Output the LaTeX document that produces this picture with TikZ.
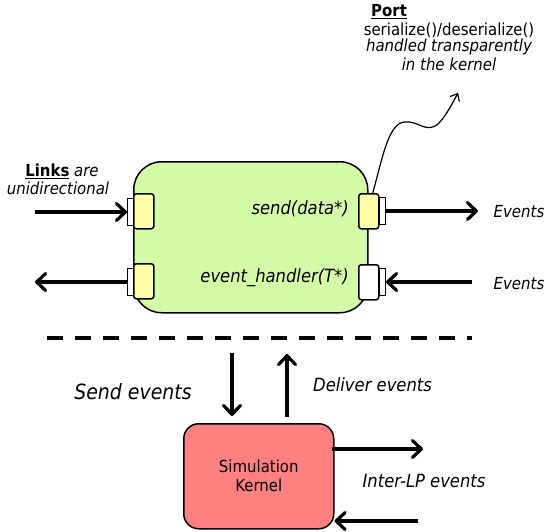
\documentclass[tikz,border=0pt]{standalone}
\usepackage{fontspec}
\setmainfont{DejaVu Sans Condensed}
\usetikzlibrary{arrows.meta}

\definecolor{lpgreen}{RGB}{212,252,168}
\definecolor{portyellow}{RGB}{255,255,170}
\definecolor{kernelred}{RGB}{255,128,128}

\begin{document}
\begin{tikzpicture}[x=1pt,y=-1pt,
  flow/.style={line width=3.2pt,-{Straight Barb[length=9pt,width=17pt,round]}},
  box/.style={draw,line width=1.5pt,inner sep=0pt,anchor=north west},
  portbox/.style={box,fill=portyellow,rounded corners=2.5pt,minimum width=20pt,minimum height=35pt},
  inport/.style={portbox,fill=white},
  tab/.style={box,fill=white,line width=1pt,minimum width=6pt,minimum height=27pt},
  lbl/.style={inner sep=0pt,font=\fontsize{16.6}{17}\selectfont\itshape},
  biglbl/.style={inner sep=0pt,font=\fontsize{18.2}{19}\selectfont\itshape},
  txt/.style={inner sep=0pt,font=\fontsize{16.6}{17}\selectfont}]
\useasboundingbox (0,0) rectangle (546,531);

% logical process
\node[box,fill=lpgreen,rounded corners=28pt,minimum width=234pt,minimum height=151pt] (lp) at (133,161) {};

% ports on the left side
\node[tab] (tabA) at (127,198) {};
\node[portbox] (portA) at (133,193) {};
\node[tab] (tabB) at (127,268) {};
\node[portbox] (portB) at (133,263) {};

% ports on the right side
\node[tab] (tabC) at (379,197) {};
\node[portbox] (portC) at (358,193) {};
\node[tab] (tabD) at (379,268) {};
\node[inport] (portD) at (358,264) {};

\node[biglbl,anchor=east] (send) at (349,209) {send(data*)};
\node[biglbl,anchor=east] (handler) at (349,278) {event\_handler(T*)};

% links
\coordinate (inA) at (35,212);
\coordinate (outB) at (35,282);
\coordinate (outC) at (478,211);
\coordinate (inD) at (472,282);
\draw[flow] (inA) -- (inA -| tabA.west);
\draw[flow] (tabB.west |- outB) -- (outB);
\draw[flow] (tabC.east |- outC) -- (outC);
\draw[flow] (inD) -- (inD -| tabD.east);

\node[txt,anchor=center] (links) at (62,171) {\underline{\textbf{Links}} \textit{are}};
\node[lbl,anchor=center] (unidir) at (58,188) {unidirectional};
\node[lbl] (evC) at (519,212) {Events};
\node[lbl] (evD) at (519,284) {Events};

% port annotation
\node[txt,anchor=west] (porthead) at (371,12) {\underline{\textbf{Port}}};
\node[txt] (serial) at (449,30) {serialize()/deserialize()};
\node[lbl] (handled) at (449,47) {handled transparently};
\node[lbl] (inkernel) at (449,64) {in the kernel};
\draw[line width=1.2pt,-{Straight Barb[length=6pt,width=10pt,round]}]
  ([xshift=4pt]portC.north) .. controls (382,160) and (388,124) .. (404,122)
  .. controls (418,120) and (426,134) .. (438,124)
  .. controls (446,116) and (452,104) .. (458,93);

% boundary between model and kernel
\coordinate (dashL) at (47,338);
\coordinate (dashR) at (472,338);
\draw[line width=4pt,dash pattern=on 16pt off 12pt] (dashL) -- (dashR);

% simulation kernel
\node[box,fill=kernelred,rounded corners=15pt,minimum width=150pt,minimum height=105pt] (kern) at (183,423) {};
\node[txt,align=center,font=\fontsize{16.6}{19}\selectfont] (kernlbl) at (kern.center) {Simulation\\Kernel};

\coordinate (sendTop) at (232,353);
\coordinate (deliverTop) at (287,354);
\draw[flow] (sendTop) -- ([yshift=7pt]sendTop |- kern.north);
\draw[flow] ([yshift=6pt]deliverTop |- kern.north) -- (deliverTop);
\node[lbl,font=\fontsize{21}{23}\selectfont\itshape] (sendlbl) at (133,392) {Send events};
\node[biglbl,anchor=west] (deliverlbl) at (313,385) {Deliver events};

% inter-LP traffic
\coordinate (lpOut) at (423,449);
\coordinate (lpIn) at (418,521);
\draw[flow] ([xshift=-3pt]kern.east |- lpOut) -- (lpOut);
\draw[flow] (lpIn) -- (lpIn -| kern.east);
\node[biglbl] (interlp) at (424,481) {Inter-LP events};
\end{tikzpicture}
\end{document}
